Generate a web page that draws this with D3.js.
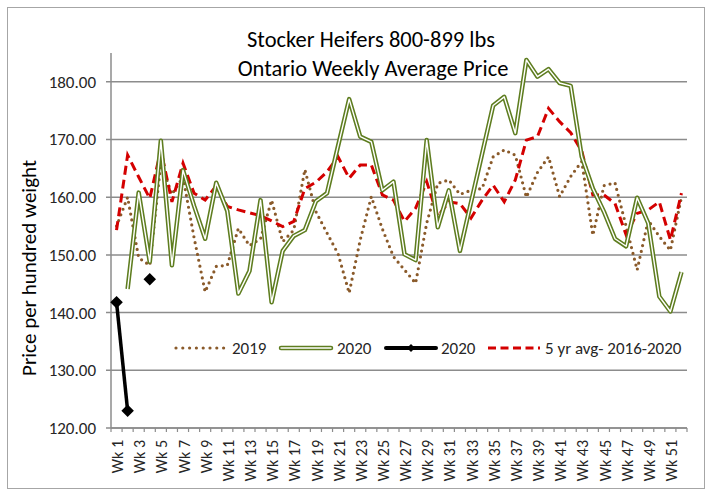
<!DOCTYPE html>
<html>
<head>
<meta charset="utf-8">
<script src="https://cdn.jsdelivr.net/npm/d3@7"></script>
<style>
  body { margin: 0; background: #fff; }
  svg { font-family: Carlito, Lato, "Liberation Sans", sans-serif; }
</style>
</head>
<body>
<svg id="chart" width="712" height="495"></svg>
<script>
// week categories
const weeks = d3.range(1, 53).map(i => "Wk " + i);
const yTicks = [120, 130, 140, 150, 160, 170, 180];

// 2019 weekly price (dotted)
const s2019 = [155, 160, 149.5, 148.2, 166, 160.5, 163.5, 153, 143.6, 148,
  148.2, 154.6, 151.6, 152.8, 159.5, 152.3, 154.3, 164.8, 157.5, 153.8,
  150.2, 143.4, 152.6, 160.1, 154.5, 149.7, 147.4, 145.1, 155.5, 162.4,
  163, 160.5, 161.2, 161.5, 167, 168.2, 167.3, 160, 164.3, 167,
  160.1, 163.6, 166.2, 153.4, 162, 162.5, 155, 147.4, 156, 153.2,
  150.8, 160];

// 2020 weekly price (double line)
const s2020 = [null, 144.1, 160.8, 148.8, 169.8, 148.2, 164.7, 158.5, 152.8, 162.5,
  157.6, 143.3, 147.2, 159.5, 141.8, 150.7, 153.3, 154.3, 159.3, 160.7,
  168.9, 177, 170.5, 169.6, 161.2, 162.7, 150.1, 149.1, 169.9, 154.8,
  161.2, 150.7, 159.1, 167.5, 175.9, 177.4, 171.1, 183.8, 180.9, 182.2,
  179.8, 179.3, 167, 161.5, 157.5, 152.8, 151.5, 159.9, 155.5, 142.8,
  140.2, 147];

// 2020 (black, with markers) - only first weeks
const s2020b = [141.8, 123, null, 145.8];

// 5 yr avg 2016-2020
const sAvg = [154.3, 167.3, 163.5, 159.8, 168.2, 159.2, 165.9, 160.7, 159.5, 162,
  158.4, 157.8, 157.3, 156.8, 155.9, 154.9, 155.8, 161.5, 162.6, 164.4,
  167, 163.3, 165.6, 165.6, 160.4, 159.5, 155.8, 158.1, 162.7, 156.7,
  159.2, 158.9, 156.4, 159.5, 162.1, 159.2, 163, 169.9, 170.5, 175.4,
  173.1, 171.2, 168, 160.4, 160.4, 158.9, 153.5, 157.2, 157.8, 159.2,
  152.6, 160.7];

const svg = d3.select("#chart");

const plotL = 111, plotR = 687, plotT = 53, plotB = 428;

const x = d3.scaleBand().domain(weeks).range([plotL, plotR]).padding(0);
const y = d3.scaleLinear().domain([120, 185]).range([plotB, plotT]);

const cx = (i) => x(weeks[i]) + x.bandwidth() / 2;

// outer border
svg.append("rect")
    .attr("x", 7.5).attr("y", 7.5)
    .attr("width", 697).attr("height", 481)
    .attr("fill", "none")
    .attr("stroke", "#a6a6a6");

// gridlines + y ticks
svg.append("g")
    .selectAll("line")
    .data(yTicks)
    .join("line")
    .attr("x1", plotL - 5).attr("x2", plotR)
    .attr("y1", d => y(d)).attr("y2", d => y(d))
    .attr("stroke", "#8c8c8c")
    .attr("stroke-width", 1.5);

svg.append("g")
    .selectAll("text")
    .data(yTicks)
    .join("text")
    .attr("x", 96)
    .attr("y", d => y(d))
    .attr("dy", "0.35em")
    .attr("text-anchor", "end")
    .attr("font-size", 17)
    .attr("fill", "#262626")
    .text(d => d.toFixed(2));

// y axis line
svg.append("line")
    .attr("x1", plotL).attr("x2", plotL)
    .attr("y1", plotT).attr("y2", plotB)
    .attr("stroke", "#8c8c8c").attr("stroke-width", 1.5);

// x axis with tick marks between categories
const xg = svg.append("g");
xg.append("line")
    .attr("x1", plotL).attr("x2", plotR)
    .attr("y1", plotB).attr("y2", plotB)
    .attr("stroke", "#8c8c8c").attr("stroke-width", 1.5);
xg.selectAll("line.tk")
    .data(d3.range(weeks.length + 1))
    .join("line")
    .attr("class", "tk")
    .attr("x1", i => plotL + i * x.bandwidth())
    .attr("x2", i => plotL + i * x.bandwidth())
    .attr("y1", plotB).attr("y2", plotB + 4)
    .attr("stroke", "#8c8c8c").attr("stroke-width", 1.2);
xg.selectAll("text")
    .data(weeks.filter((d, i) => i % 2 === 0))
    .join("text")
    .attr("transform", d => `translate(${x(d) + x.bandwidth() / 2 + 1},440) rotate(-90)`)
    .attr("dy", "0.35em")
    .attr("text-anchor", "end")
    .attr("font-size", 16)
    .attr("fill", "#262626")
    .text(d => d);

// axis title
svg.append("text")
    .attr("transform", "translate(36,268) rotate(-90)")
    .attr("text-anchor", "middle")
    .attr("font-size", 21)
    .attr("fill", "#000")
    .text("Price per hundred weight");

// chart title
svg.append("text")
    .attr("x", 371).attr("y", 47)
    .attr("text-anchor", "middle")
    .attr("font-size", 22.5)
    .attr("fill", "#000")
    .text("Stocker Heifers 800-899 lbs");
svg.append("text")
    .attr("x", 373).attr("y", 76)
    .attr("text-anchor", "middle")
    .attr("font-size", 22.5)
    .attr("fill", "#000")
    .text("Ontario Weekly Average Price");

const line = d3.line()
    .defined(d => d != null)
    .x((d, i) => cx(i))
    .y(d => y(d));

const brown = "#8a5a2a", olive = "#5e7d1f", red = "#d40000";

// 2019 dotted
svg.append("path")
    .attr("d", line(s2019))
    .attr("fill", "none")
    .attr("stroke", brown)
    .attr("stroke-width", 3.2)
    .attr("stroke-linecap", "round")
    .attr("stroke-dasharray", "0 6");

// 5yr avg dashed
svg.append("path")
    .attr("d", line(sAvg))
    .attr("fill", "none")
    .attr("stroke", red)
    .attr("stroke-width", 3)
    .attr("stroke-dasharray", "9 5");

// 2020 double line
svg.append("path")
    .attr("d", line(s2020))
    .attr("fill", "none")
    .attr("stroke", olive)
    .attr("stroke-width", 4.5)
    .attr("stroke-linejoin", "round");
svg.append("path")
    .attr("d", line(s2020))
    .attr("fill", "none")
    .attr("stroke", "#fff")
    .attr("stroke-width", 1.4)
    .attr("stroke-linejoin", "round");

// 2020 black with diamonds
svg.append("path")
    .attr("d", line(s2020b))
    .attr("fill", "none")
    .attr("stroke", "#000")
    .attr("stroke-width", 3.5);
const diamond = d3.symbol().type(d3.symbolDiamond2).size(100);
svg.append("g")
    .selectAll("path")
    .data(s2020b.map((v, i) => ({ v, i })).filter(d => d.v != null))
    .join("path")
    .attr("d", diamond)
    .attr("transform", d => `translate(${cx(d.i)},${y(d.v)})`)
    .attr("fill", "#000");

// legend
const ly = 348;
const lg = svg.append("g").attr("font-size", 17).attr("fill", "#262626");
lg.append("line").attr("x1", 176).attr("x2", 224).attr("y1", ly).attr("y2", ly)
    .attr("stroke", brown).attr("stroke-width", 3.2)
    .attr("stroke-linecap", "round").attr("stroke-dasharray", "0 6.8");
lg.append("text").attr("x", 232).attr("y", ly).attr("dy", "0.35em").text("2019");

lg.append("line").attr("x1", 281).attr("x2", 331).attr("y1", ly).attr("y2", ly)
    .attr("stroke", olive).attr("stroke-width", 4.5).attr("stroke-linecap", "round");
lg.append("line").attr("x1", 281).attr("x2", 331).attr("y1", ly).attr("y2", ly)
    .attr("stroke", "#fff").attr("stroke-width", 1.4).attr("stroke-linecap", "round");
lg.append("text").attr("x", 337).attr("y", ly).attr("dy", "0.35em").text("2020");

lg.append("line").attr("x1", 386).attr("x2", 436).attr("y1", ly).attr("y2", ly)
    .attr("stroke", "#000").attr("stroke-width", 4).attr("stroke-linecap", "round");
lg.append("path").attr("d", d3.symbol().type(d3.symbolDiamond2).size(40))
    .attr("transform", `translate(411,${ly})`).attr("fill", "#000");
lg.append("text").attr("x", 441).attr("y", ly).attr("dy", "0.35em").text("2020");

lg.append("line").attr("x1", 488).attr("x2", 540).attr("y1", ly).attr("y2", ly)
    .attr("stroke", red).attr("stroke-width", 3).attr("stroke-dasharray", "8 4.5");
lg.append("text").attr("x", 545).attr("y", ly).attr("dy", "0.35em").text("5 yr avg- 2016-2020");
</script>
</body>
</html>
